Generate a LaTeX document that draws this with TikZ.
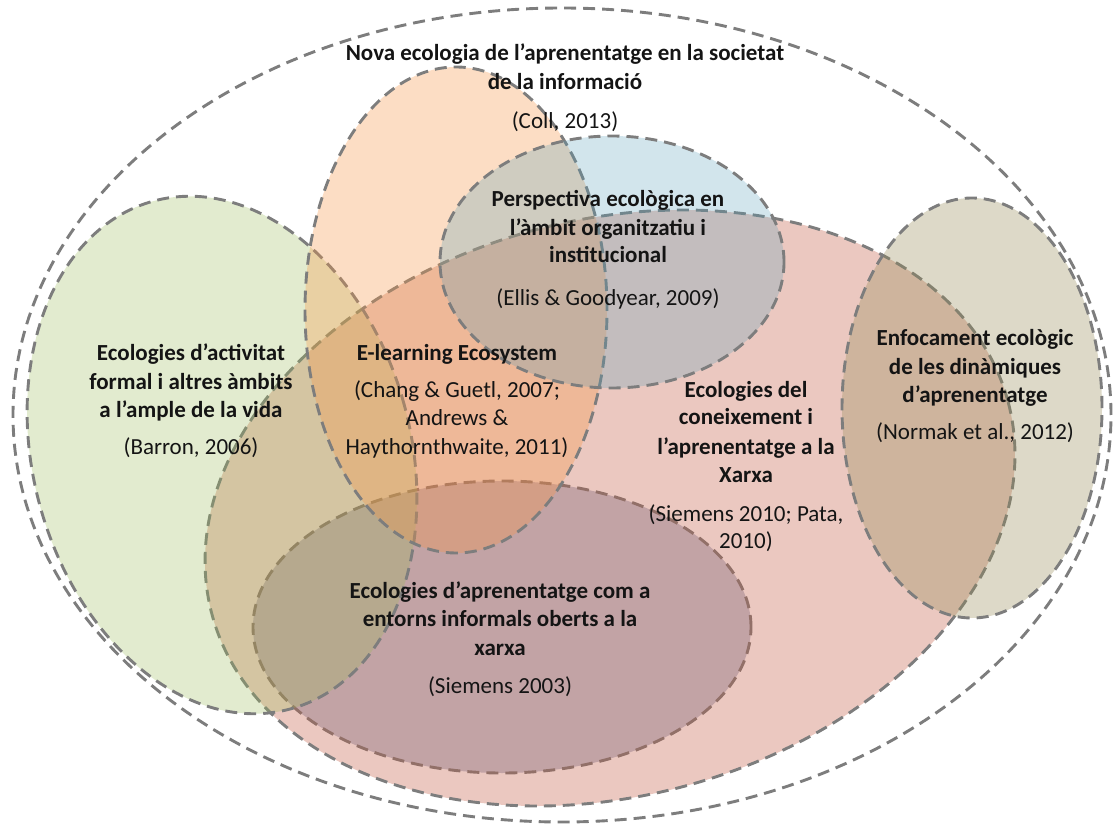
\documentclass[tikz,border=0pt]{standalone}
\usepackage{fontspec}
\setmainfont{Carlito}
\definecolor{linegray}{RGB}{125,125,125}
\definecolor{lavender}{RGB}{196,200,216}
\definecolor{salmon}{RGB}{192,85,60}
\definecolor{olive}{RGB}{155,187,89}
\definecolor{tangerine}{RGB}{247,150,70}
\definecolor{aqua}{RGB}{88,159,185}
\definecolor{khaki}{RGB}{148,138,84}
\begin{document}
\begin{tikzpicture}[x=1pt,y=1pt,
  outline/.style={draw=linegray, line width=2.9pt, dash pattern=on 12pt off 7pt},
  ttl/.style={font=\fontsize{23}{28}\selectfont\bfseries, text=black!92, anchor=base, inner sep=0pt},
  cite/.style={font=\fontsize{23}{28}\selectfont, text=black!92, anchor=base, inner sep=0pt}]
\useasboundingbox (0,0) rectangle (1115,825);

% informal open network environments (lowest layer)
\path[outline, fill=lavender] (502,198) ellipse [x radius=249pt, y radius=146pt];
% knowledge and learning on the network
\path[outline, fill=salmon, fill opacity=0.32, rotate around={15:(610,317)}]
  (610,317) ellipse [x radius=412pt, y radius=288pt];
% formal activity and life-wide settings
\path[outline, fill=olive, fill opacity=0.29, rotate around={15:(222,370)}]
  (222,370) ellipse [x radius=189pt, y radius=263pt];
% new ecology of learning
\path[outline, fill=tangerine, fill opacity=0.32] (456,515) ellipse [x radius=151pt, y radius=243pt];
% organisational perspective
\path[outline, fill=aqua, fill opacity=0.27] (612,563) ellipse [x radius=172pt, y radius=126pt];
% learning dynamics
\path[outline, fill=khaki, fill opacity=0.32] (972,417) ellipse [x radius=130pt, y radius=210pt];
% enclosing boundary
\path[outline] (562,410) ellipse [x radius=549pt, y radius=407pt];

% labels
\node[ttl] (coll1) at (565,764) {Nova ecologia de l’aprenentatge en la societat};
\node[ttl] (coll2) at (565,735) {de la informació};
\node[cite] (collc) at (565,696) {(Coll, 2013)};

\node[ttl] (ellis1) at (608,618) {Perspectiva ecològica en};
\node[ttl] (ellis2) at (608,589) {l’àmbit organitzatiu i};
\node[ttl] (ellis3) at (608,562) {institucional};
\node[cite] (ellisc) at (608,519) {(Ellis \& Goodyear, 2009)};

\node[ttl] (barr1) at (191,464) {Ecologies d’activitat};
\node[ttl] (barr2) at (191,435) {formal i altres àmbits};
\node[ttl] (barr3) at (191,407) {a l’ample de la vida};
\node[cite] (barrc) at (191,370) {(Barron, 2006)};

\node[ttl] (elrn1) at (457,464) {E-learning Ecosystem};
\node[cite] (elrnc1) at (457,427) {(Chang \& Guetl, 2007;};
\node[cite] (elrnc2) at (457,399) {Andrews \&};
\node[cite] (elrnc3) at (457,370) {Haythornthwaite, 2011)};

\node[ttl] (siem1) at (746,427) {Ecologies del};
\node[ttl] (siem2) at (746,400) {coneixement i};
\node[ttl] (siem3) at (746,370) {l’aprenentatge a la};
\node[ttl] (siem4) at (746,342) {Xarxa};
\node[cite] (siemc1) at (746,304) {(Siemens 2010; Pata,};
\node[cite] (siemc2) at (746,277) {2010)};

\node[ttl] (norm1) at (975,479) {Enfocament ecològic};
\node[ttl] (norm2) at (975,450) {de les dinàmiques};
\node[ttl] (norm3) at (975,422) {d’aprenentatge};
\node[cite] (normc) at (975,385) {(Normak et al., 2012)};

\node[ttl] (inf1) at (500,227) {Ecologies d’aprenentatge com a};
\node[ttl] (inf2) at (500,199) {entorns informals oberts a la};
\node[ttl] (inf3) at (500,170) {xarxa};
\node[cite] (infc) at (500,132) {(Siemens 2003)};
\end{tikzpicture}
\end{document}
